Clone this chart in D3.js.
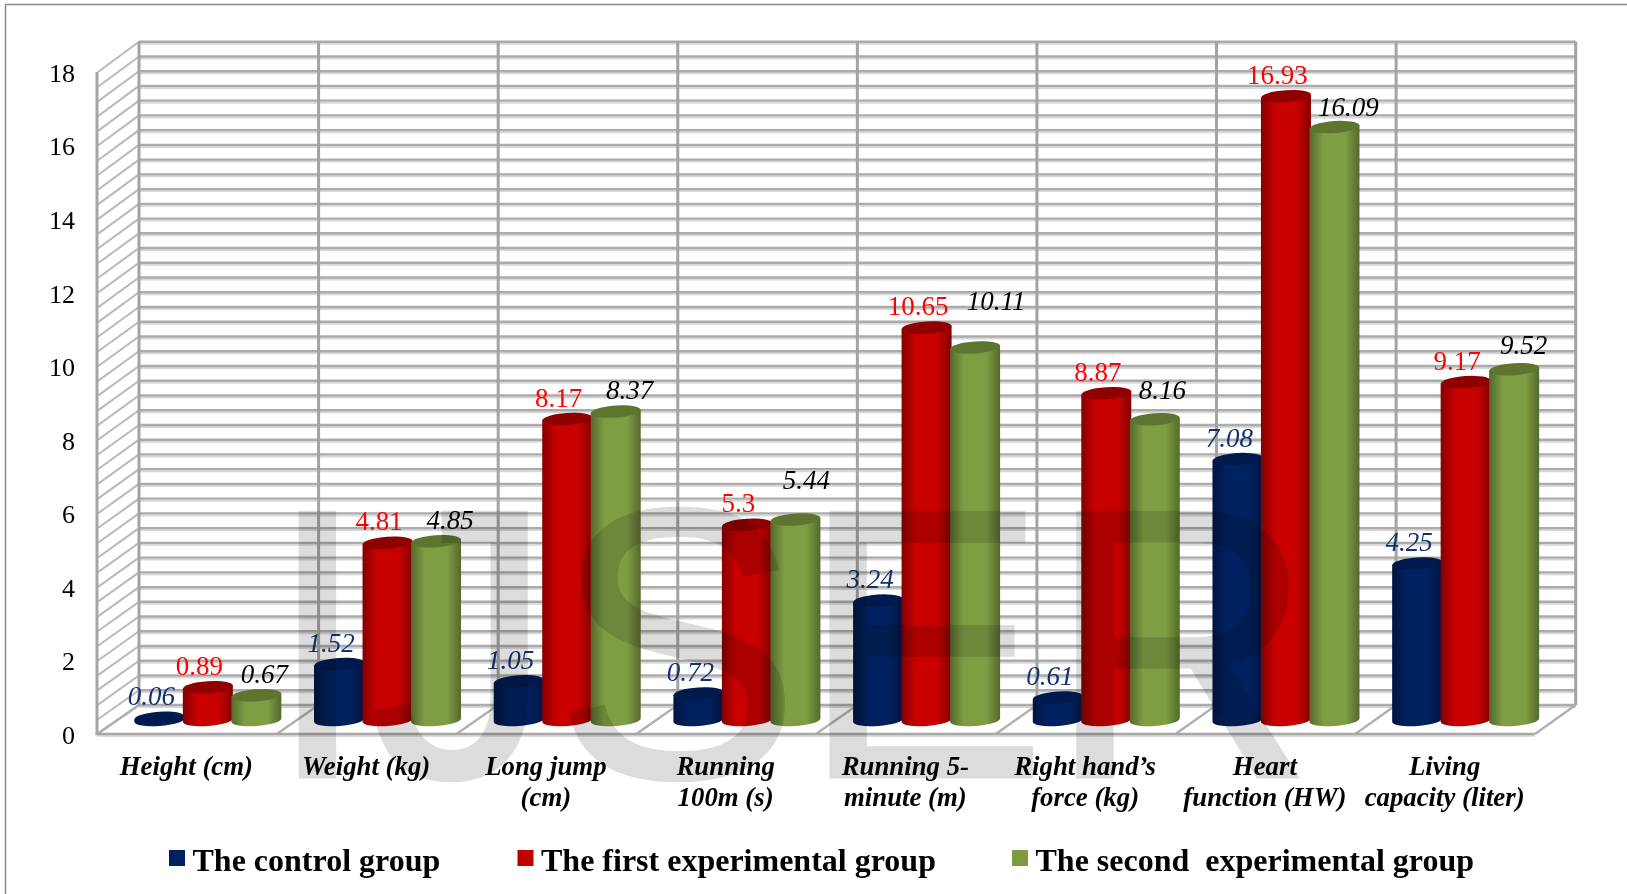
<!DOCTYPE html>
<html>
<head>
<meta charset="utf-8">
<script src="https://cdn.jsdelivr.net/npm/d3@7/dist/d3.min.js"></script>
<style>
  html, body { margin: 0; padding: 0; background: #fff; }
  svg { display: block; }
  text { font-family: "Liberation Serif", serif; }
</style>
</head>
<body>
<svg id="chart" width="1627" height="894"></svg>
<script>
// Data
const categories = ["Height (cm)", "Weight (kg)", "Long jump (cm)", "Running 100m (s)",
  "Running 5-minute (m)", "Right hand’s force (kg)", "Heart function (HW)", "Living capacity (liter)"];
const categoryLines = [["Height (cm)"], ["Weight (kg)"], ["Long jump", "(cm)"], ["Running", "100m (s)"],
  ["Running 5-", "minute (m)"], ["Right hand’s", "force (kg)"], ["Heart", "function (HW)"], ["Living", "capacity (liter)"]];
const seriesNames = ["The control group", "The first experimental group", "The second  experimental group"];
const controlValues = [0.06, 1.52, 1.05, 0.72, 3.24, 0.61, 7.08, 4.25];
const firstValues = [0.89, 4.81, 8.17, 5.3, 10.65, 8.87, 16.93, 9.17];
const secondValues = [0.67, 4.85, 8.37, 5.44, 10.11, 8.16, 16.09, 9.52];
const seriesValues = [controlValues, firstValues, secondValues];
const yTicks = [0, 2, 4, 6, 8, 10, 12, 14, 16, 18];
const gridStep = 0.4;

// Hand-placed data label offsets (px from the cylinder's top centre)
const labelDx = [[-8, -8, -8, -8, -8, -8, -8, -8],
                 [-8.5, -8.5, -8.5, -8.5, -8.5, -8.5, -8.5, -8.5],
                 [8, 14, 14, 11, 21, 7.5, 14, 9.5]];
const labelDy = [[-21, -21, -21, -21, -21, -21, -21, -21],
                 [-21, -21, -21, -21, -21, -21, -21, -21],
                 [-21, -21, -21, -39, -46, -29, -20, -24]];

// Styling per series
const bodyColors = [
  { edge: "#00143f", mid: "#00215f", top: "#001a4e", swatch: "#002060" },
  { edge: "#840000", mid: "#c80000", top: "#8f0000", swatch: "#c00000" },
  { edge: "#55692c", mid: "#7f9e44", top: "#5d752f", swatch: "#7f9a41" }
];
const legendX = [169, 517.5, 1012];
const labelColors = ["#14306e", "#ff0000", "#000000"];
const labelStyles = ["italic", "normal", "italic"];

const svg = d3.select("#chart");

// Outer frame, open at the right and at the bottom
svg.append("path").attr("d", "M5.5,894V4.5H1627").attr("fill", "none")
  .attr("stroke", "#8c8c8c").attr("stroke-width", 1.5);

// Scales: the same value maps onto three depth planes of the 3-D box
const yFront = d3.scaleLinear().domain([0, 18]).range([734, 72]);
const yBack = d3.scaleLinear().domain([0, 18]).range([705, 41.7]);
const yMid = d3.scaleLinear().domain([0, 18]).range([720, 720 - 663.3]);
const xFront = d3.scaleBand().domain(categories).range([97, 1535]);
const xBack = d3.scaleBand().domain(categories).range([139, 1575.7]);
const xMid = d3.scaleBand().domain(categories).range([118, 1555.5]);
const xSeries = d3.scalePoint().domain(seriesNames).range([-48.5, 48.5]);

// Cylinder side gradients
const defs = svg.append("defs");
bodyColors.forEach((c, i) => {
  const g = defs.append("linearGradient").attr("id", "body" + i);
  [[0, c.edge], [0.28, c.mid], [0.72, c.mid], [1, c.edge]].forEach(([o, col]) =>
    g.append("stop").attr("offset", o).attr("stop-color", col));
});

// Back wall, side wall and floor
const wall = svg.append("g").attr("fill", "none");
const gridValues = d3.range(0, 45 + 1).map(k => +(k * gridStep).toFixed(1));
const leftBack = xBack.range()[0], rightBack = xBack.range()[1];
const leftFront = xFront.range()[0], rightFront = xFront.range()[1];

wall.selectAll("line.shade").data(gridValues).join("line").attr("class", "shade")
  .attr("x1", leftBack).attr("x2", rightBack)
  .attr("y1", d => yBack(d) + 2).attr("y2", d => yBack(d) + 2)
  .attr("stroke", "#d8d8d8").attr("stroke-width", 2);
wall.selectAll("line.grid").data(gridValues).join("line").attr("class", "grid")
  .attr("x1", leftBack).attr("x2", rightBack)
  .attr("y1", d => yBack(d)).attr("y2", d => yBack(d))
  .attr("stroke", "#ababab").attr("stroke-width", 2.4);
wall.selectAll("line.side").data(gridValues).join("line").attr("class", "side")
  .attr("x1", leftFront + 1).attr("x2", leftBack)
  .attr("y1", d => yFront(d)).attr("y2", d => yBack(d))
  .attr("stroke", "#b9b9b9").attr("stroke-width", 2);

// Vertical dividers and the floor diagonals below them
const boundaries = categories.concat(["__end"]);
const boundaryAt = (scale, i) => scale.range()[0] + i * scale.step();
wall.selectAll("line.divider").data(boundaries).join("line").attr("class", "divider")
  .attr("x1", (d, i) => boundaryAt(xBack, i)).attr("x2", (d, i) => boundaryAt(xBack, i))
  .attr("y1", yBack(18)).attr("y2", yBack(0))
  .attr("stroke", "#a3a3a3").attr("stroke-width", 3);
wall.selectAll("line.floor").data(boundaries).join("line").attr("class", "floor")
  .attr("x1", (d, i) => boundaryAt(xBack, i)).attr("x2", (d, i) => boundaryAt(xFront, i))
  .attr("y1", yBack(0)).attr("y2", yFront(0))
  .attr("stroke", "#b0b0b0").attr("stroke-width", 2.4);
wall.append("line").attr("x1", leftFront).attr("x2", leftFront)
  .attr("y1", yFront(18)).attr("y2", yFront(0)).attr("stroke", "#a6a6a6").attr("stroke-width", 3);
wall.append("line").attr("x1", leftFront).attr("x2", rightFront)
  .attr("y1", yFront(0) + 2).attr("y2", yFront(0) + 2).attr("stroke", "#dedede").attr("stroke-width", 2);
wall.append("line").attr("x1", leftFront - 1.5).attr("x2", rightFront)
  .attr("y1", yFront(0)).attr("y2", yFront(0)).attr("stroke", "#a6a6a6").attr("stroke-width", 2.6);

// Cylinders, slightly tilted as in a perspective view
const rx = 25, ry = 6, tiltDeg = -4;
const lift = rx * Math.tan(-tiltDeg * Math.PI / 180);
const barsLayer = svg.append("g");
categories.forEach((cat, ci) => {
  seriesNames.forEach((name, si) => {
    const v = seriesValues[si][ci];
    const cx = xMid(cat) + xMid.bandwidth() / 2 + xSeries(name);
    const top = yMid(v), base = yMid(0);
    const g = barsLayer.append("g");
    g.append("path")
      .attr("d", `M${cx - rx},${top + lift}L${cx - rx},${base + lift}` +
        `A${rx},${ry} ${tiltDeg} 0 0 ${cx + rx},${base - lift}L${cx + rx},${top - lift}Z`)
      .attr("fill", `url(#body${si})`);
    g.append("ellipse").attr("rx", rx).attr("ry", ry)
      .attr("transform", `translate(${cx},${top}) rotate(${tiltDeg})`)
      .attr("fill", bodyColors[si].top);
  });
});

// Data labels
const labels = svg.append("g").attr("font-size", 27).attr("text-anchor", "middle");
categories.forEach((cat, ci) => {
  seriesNames.forEach((name, si) => {
    const v = seriesValues[si][ci];
    labels.append("text")
      .attr("x", xMid(cat) + xMid.bandwidth() / 2 + xSeries(name) + labelDx[si][ci])
      .attr("y", yMid(v) + labelDy[si][ci] + 8.7)
      .attr("fill", labelColors[si])
      .attr("font-style", labelStyles[si])
      .text(String(v));
  });
});

// Value axis
const yAxis = d3.axisLeft(yFront).tickValues(yTicks).tickSize(0).tickPadding(23);
const yAxisG = svg.append("g").attr("transform", `translate(${leftFront + 1},0)`).call(yAxis);
yAxisG.select(".domain").remove();
yAxisG.selectAll("text").attr("font-family", "Liberation Serif").attr("font-size", 26)
  .attr("fill", "#000").attr("dy", "0.36em");

// Category labels
const catG = svg.append("g").attr("font-size", 26.8).attr("font-weight", "bold")
  .attr("font-style", "italic").attr("text-anchor", "middle").attr("fill", "#000");
categories.forEach((cat, i) => {
  categoryLines[i].forEach((line, j) => {
    catG.append("text").attr("x", xFront(cat) + xFront.bandwidth() / 2 - 0.5)
      .attr("y", 775 + j * 31).text(line);
  });
});

// Legend
const legend = svg.append("g");
seriesNames.forEach((name, i) => {
  legend.append("rect").attr("x", legendX[i]).attr("y", 850).attr("width", 16).attr("height", 16)
    .attr("fill", bodyColors[i].swatch);
  legend.append("text").attr("x", legendX[i] + 23.5).attr("y", 871)
    .attr("font-size", 32).attr("font-weight", "bold").attr("fill", "#000")
    .style("white-space", "pre").text(name);
});

// Large translucent lettering laid across the whole plot
svg.append("text")
  .attr("transform", "translate(266,777) scale(0.961,1)")
  .style("font-family", "'Liberation Sans', Arial, sans-serif")
  .style("mix-blend-mode", "multiply")
  .attr("font-size", 385).attr("fill", "#dcdcdc")
  .attr("stroke", "#dcdcdc").attr("stroke-width", 3).text("IJSER");
</script>
</body>
</html>
